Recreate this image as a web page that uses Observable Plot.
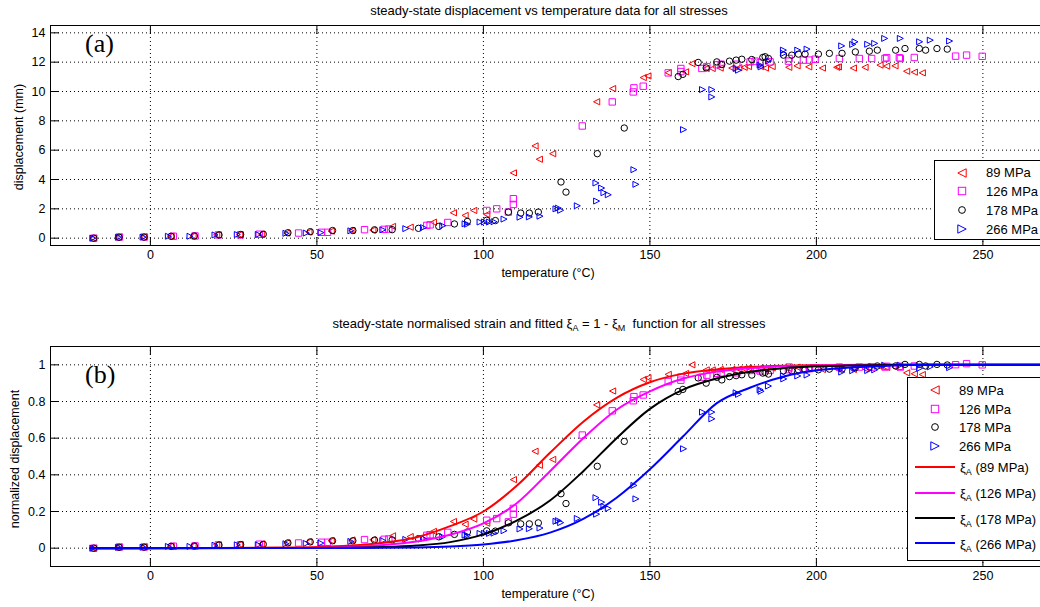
<!DOCTYPE html>
<html><head><meta charset="utf-8">
<script src="https://cdn.jsdelivr.net/npm/d3@7"></script>
<script src="https://cdn.jsdelivr.net/npm/@observablehq/plot@0.6"></script>
<style>
html,body{margin:0;padding:0;background:#fff;overflow:hidden;}
#fig{position:relative;width:1040px;height:607px;overflow:hidden;background:#fff;font-family:"Liberation Sans",Arial,sans-serif;color:#000;}
#fig svg.plotsvg{max-width:none !important;}
.abs{position:absolute;white-space:nowrap;line-height:14px;}
.ctr{transform:translateX(-50%);}
.rot{transform:translate(-50%,-50%) rotate(-90deg);}
.panel{font-family:"Liberation Serif","Times New Roman",serif;font-size:26px;line-height:26px;}
.legbox{position:absolute;border:1px solid #000;background:#fff;}
.legtxt{position:absolute;white-space:nowrap;font-size:13px;line-height:15px;}
sub{font-size:9px;vertical-align:-3px;line-height:0;}
</style>
</head>
<body>
<div id="fig"></div>
<script>
// ---------- data ----------
const stressLabels = ["89 MPa", "126 MPa", "178 MPa", "266 MPa"];
const xTicks = [0, 50, 100, 150, 200, 250];
const dispTicks = [0, 2, 4, 6, 8, 10, 12, 14];
const normTicks = [0, 0.2, 0.4, 0.6, 0.8, 1];

// [temperature °C, displacement mm]
const d89 = [[-17.2,0.00],[-9.5,0.07],[-2.0,0.08],[6.2,0.14],[12.8,0.15],[19.9,0.23],[26.8,0.25],[33.4,0.28],[41.0,0.35],[47.6,0.42],[54.3,0.48],[60.5,0.53],[66.8,0.55],[72.7,0.80],[78.0,0.75],[85.0,1.09],[91.0,1.73],[94.5,1.55],[97.1,1.89],[101.0,1.62],[109.0,4.45],[115.5,6.29],[116.8,5.38],[120.8,5.76],[134.0,9.30],[138.8,10.20],[148.0,10.95],[149.4,11.06],[155.5,11.28],[160.7,11.34],[162.6,11.90],[166.9,11.57],[168.7,11.57],[171.1,11.60],[174.6,11.60],[176.7,11.62],[178.3,11.65],[179.6,11.70],[183.2,11.70],[184.7,11.60],[186.7,11.70],[191.7,11.65],[194.2,11.75],[197.7,11.68],[201.8,11.60],[206.1,11.65],[206.6,11.68],[211.1,11.60],[214.6,11.65],[219.1,11.80],[221.1,11.73],[223.6,11.75],[227.1,11.38],[229.4,11.32],[231.8,11.27]];
const d126 = [[-17.0,0.00],[-9.3,0.08],[-1.8,0.08],[6.9,0.13],[13.4,0.15],[20.4,0.22],[27.0,0.22],[32.7,0.27],[44.5,0.35],[51.4,0.40],[53.2,0.40],[64.3,0.58],[70.2,0.60],[71.6,0.62],[83.0,0.87],[84.0,0.91],[89.3,1.07],[101.0,1.89],[104.0,2.00],[107.5,1.78],[109.0,2.69],[109.0,2.30],[129.7,7.65],[138.7,9.29],[145.2,10.25],[145.0,9.97],[148.0,10.36],[155.5,11.27],[159.3,11.57],[159.3,11.36],[165.6,11.57],[167.1,11.70],[170.1,11.82],[171.4,11.86],[176.1,11.86],[180.1,12.02],[181.6,12.07],[183.1,11.98],[186.1,12.02],[191.6,12.07],[191.8,12.25],[196.1,12.14],[197.9,12.14],[199.6,12.20],[206.9,12.25],[212.9,12.25],[216.6,12.25],[220.6,12.25],[221.1,12.30],[224.9,12.30],[225.2,12.25],[229.4,12.32],[241.8,12.41],[245.1,12.48],[249.8,12.40]];
const d178 = [[-17.0,0.00],[-9.4,0.06],[-1.9,0.07],[6.2,0.13],[13.2,0.15],[20.6,0.22],[27.1,0.25],[33.9,0.27],[41.3,0.37],[48.0,0.44],[54.7,0.52],[60.8,0.52],[67.3,0.57],[72.6,0.58],[80.5,0.67],[86.6,0.80],[91.3,0.97],[95.2,1.14],[101.0,1.22],[103.6,1.20],[107.5,1.78],[111.2,1.71],[113.8,1.71],[116.5,1.78],[123.3,3.83],[124.8,3.14],[134.2,5.76],[142.3,7.51],[158.5,11.02],[159.9,11.17],[164.5,11.98],[166.9,11.61],[170.1,12.02],[171.6,11.84],[173.9,12.07],[175.9,12.14],[177.6,12.20],[180.6,12.18],[183.9,12.32],[184.6,12.37],[185.6,12.25],[190.1,12.48],[192.6,12.48],[194.6,12.55],[196.6,12.55],[200.6,12.55],[203.9,12.60],[207.7,12.60],[211.7,12.70],[215.9,12.75],[218.3,12.82],[223.8,12.82],[226.6,12.93],[230.9,12.93],[232.8,12.82],[236.2,12.93],[239.3,12.89]];
const d266 = [[-17.3,0.00],[-9.6,0.06],[-2.2,0.07],[5.4,0.13],[11.9,0.13],[19.4,0.22],[26.1,0.25],[32.4,0.25],[40.7,0.33],[46.8,0.35],[51.2,0.38],[60.2,0.50],[69.8,0.57],[76.7,0.65],[82.0,0.72],[87.8,0.85],[94.5,0.98],[95.2,0.95],[99.0,1.10],[100.3,1.10],[101.8,1.10],[103.2,1.12],[106.2,1.30],[111.0,1.43],[113.8,1.45],[117.0,1.50],[121.8,2.00],[122.5,2.05],[123.2,1.90],[128.2,2.21],[133.8,3.76],[134.0,2.53],[135.5,3.42],[136.2,3.10],[137.5,2.96],[145.2,4.67],[145.8,3.67],[160.1,7.40],[165.8,10.13],[168.6,10.13],[168.6,9.63],[175.9,11.57],[176.6,11.45],[183.1,11.80],[183.4,11.68],[185.6,12.07],[190.1,12.82],[190.2,12.60],[194.4,12.82],[197.2,12.89],[207.6,13.11],[210.9,13.21],[211.6,13.39],[215.4,13.22],[217.5,13.28],[220.5,13.62],[225.2,13.62],[231.0,13.39],[234.2,13.50],[240.0,13.44]];

// displacement that maps to normalized value 1 for each stress
const normRef = [11.9, 12.4, 12.9, 13.65];

// fitted xi_A curves [temperature, normalized value]
const fit89 = [[-18,0],[20,0.001],[40,0.003],[50,0.006],[60,0.014],[70,0.03],[80,0.06],[90,0.12],[100,0.2],[110,0.34],[120,0.52],[130,0.69],[140,0.82],[150,0.905],[160,0.952],[170,0.975],[180,0.988],[190,0.995],[200,0.998],[215,1],[270,1]];
const fit126 = [[-18,0],[40,0.001],[60,0.007],[70,0.017],[80,0.036],[90,0.073],[100,0.135],[110,0.245],[120,0.42],[130,0.6],[140,0.755],[150,0.855],[160,0.925],[170,0.963],[180,0.982],[190,0.992],[200,0.997],[220,1],[270,1]];
const fit178 = [[-18,0],[50,0.001],[70,0.006],[80,0.014],[90,0.033],[100,0.075],[110,0.15],[120,0.26],[130,0.42],[140,0.6],[150,0.76],[160,0.865],[170,0.925],[180,0.962],[190,0.982],[200,0.992],[210,0.997],[230,1],[270,1]];
const fit266 = [[-18,0],[60,0.001],[80,0.004],[90,0.009],[100,0.02],[110,0.043],[120,0.085],[130,0.16],[140,0.275],[150,0.43],[160,0.61],[170,0.79],[180,0.875],[190,0.935],[200,0.97],[210,0.985],[220,0.994],[235,1],[270,1]];

// ---------- styling ----------
const colors = ["#ff0000", "#ff00ff", "#000000", "#0000ff"];
const triLeft = {draw(ctx, size){ const h = Math.sqrt(size/Math.PI); ctx.moveTo(-h,0); ctx.lineTo(h,-h); ctx.lineTo(h,h); ctx.closePath(); }};
const triRight = {draw(ctx, size){ const h = Math.sqrt(size/Math.PI); ctx.moveTo(h,0); ctx.lineTo(-h,-h); ctx.lineTo(-h,h); ctx.closePath(); }};
const symbols = [triLeft, "square", "circle", triRight];
const radii = [3.1, 3.6, 3.2, 3.0];
const dataSets = [d89, d126, d178, d266];
const fits = [fit89, fit126, fit178, fit266];

const xDomain = [-30, 270];
const gridStyle = {stroke:"#000", strokeOpacity:1, strokeDasharray:"1,3", strokeWidth:1};
const plotStyle = {fontFamily:'"Liberation Sans", Arial, sans-serif', fontSize:"12.5px", color:"#000", background:"transparent", overflow:"visible", maxWidth:"none"};

function axes(yTicks, yFmt) {
  return [
    Plot.axisX(xTicks, {anchor:"bottom", tickSize:0, tickPadding:5, label:null}),
    Plot.axisX(xTicks, {anchor:"bottom", tickSize:8, dy:-8, tickFormat:() => "", label:null}),
    Plot.axisX(xTicks, {anchor:"top", tickSize:8, dy:8, tickFormat:() => "", label:null}),
    Plot.axisY(yTicks, {anchor:"left", tickSize:0, tickPadding:5, tickFormat:yFmt, label:null}),
    Plot.axisY(yTicks, {anchor:"left", tickSize:9, dx:9, tickFormat:() => "", label:null})
  ];
}

const topPlot = Plot.plot({
  width:1050, height:290,
  marginLeft:50, marginRight:1, marginTop:25, marginBottom:45,
  x:{domain:xDomain}, y:{domain:[-0.5, 14.5]},
  style:plotStyle,
  marks:[
    Plot.gridX(xTicks, gridStyle),
    Plot.gridY(dispTicks, gridStyle),
    ...dataSets.map((ds, i) => Plot.dot(ds, {x:d => d[0], y:d => d[1], symbol:symbols[i], r:radii[i], stroke:colors[i], fill:"none", strokeWidth:1})),
    Plot.frame({stroke:"#000"}),
    ...axes(dispTicks, d => String(d))
  ]
});

const bottomPlot = Plot.plot({
  width:1050, height:307,
  marginLeft:50, marginRight:1, marginTop:46, marginBottom:41,
  x:{domain:xDomain}, y:{domain:[-0.1, 1.1]},
  style:plotStyle,
  marks:[
    Plot.gridX(xTicks, gridStyle),
    Plot.gridY(normTicks, gridStyle),
    ...dataSets.map((ds, i) => Plot.dot(ds, {x:d => d[0], y:d => d[1] / normRef[i], symbol:symbols[i], r:radii[i], stroke:colors[i], fill:"none", strokeWidth:1})),
    ...fits.map((f, i) => Plot.line(f, {x:d => d[0], y:d => d[1], stroke:colors[i], strokeWidth:2, curve:"monotone-x"})),
    Plot.frame({stroke:"#000"}),
    ...axes(normTicks, d => String(d))
  ]
});

const fig = document.getElementById("fig");
for (const [svg, top, h] of [[topPlot, 0, 290], [bottomPlot, 300, 307]]) {
  svg.classList.add("plotsvg");
  svg.style.position = "absolute";
  svg.style.left = "0px";
  svg.style.top = top + "px";
  svg.style.maxWidth = "none";
  svg.style.width = "1050px";
  svg.style.height = h + "px";
  fig.appendChild(svg);
}

function addDiv(html, cls, left, top, extra) {
  const d = document.createElement("div");
  d.className = cls;
  d.innerHTML = html;
  d.style.left = left + "px"; d.style.top = top + "px";
  if (extra) Object.assign(d.style, extra);
  fig.appendChild(d);
  return d;
}

// titles & labels
addDiv("steady-state displacement vs temperature data for all stresses", "abs ctr", 549, 4, {fontSize:"13px"});
addDiv("temperature (°C)", "abs ctr", 548, 266, {fontSize:"12.5px"});
addDiv("displacement (mm)", "abs rot", 18.5, 137, {fontSize:"12.5px"});
addDiv("(a)", "abs panel", 85, 30.5);

addDiv("steady-state normalised strain and fitted ξ<sub>A</sub> = 1 - ξ<sub>M</sub>&nbsp; function for all stresses", "abs ctr", 549, 317, {fontSize:"13px"});
addDiv("temperature (°C)", "abs ctr", 548, 587, {fontSize:"12.5px"});
addDiv("normalized displacement", "abs rot", 15, 459, {fontSize:"12.5px"});
addDiv("(b)", "abs panel", 85, 362);

// legends
function markerSVG(i, h) {
  let shape;
  if (i === 0) shape = `<path d="M${-h},0L${h},${-h}L${h},${h}Z"/>`;
  else if (i === 1) shape = `<rect x="${-h}" y="${-h}" width="${2*h}" height="${2*h}"/>`;
  else if (i === 2) shape = `<circle r="${h*0.8}"/>`;
  else shape = `<path d="M${h},0L${-h},${-h}L${-h},${h}Z"/>`;
  return `<svg width="16" height="16" viewBox="-8 -8 16 16" style="position:absolute;left:0;top:0;overflow:visible"><g fill="none" stroke="${colors[i]}" stroke-width="1">${shape}</g></svg>`;
}
function addMarker(i, cx, cy, h) {
  const d = document.createElement("div");
  d.style.position = "absolute"; d.style.left = (cx - 8) + "px"; d.style.top = (cy - 8) + "px";
  d.style.width = "16px"; d.style.height = "16px";
  d.innerHTML = markerSVG(i, h);
  fig.appendChild(d);
}
// top legend
addDiv("", "legbox", 934, 160, {width:"130px", height:"78px"});
const topRows = [172.7, 191, 210, 229];
stressLabels.forEach((lab, i) => {
  addMarker(i, 962, topRows[i], i === 1 ? 3.7 : 4.2);
  addDiv(lab, "legtxt", 986, topRows[i] - 7.5);
});
// bottom legend
addDiv("", "legbox", 907, 377, {width:"160px", height:"182px"});
const botRows = [390, 409.3, 427.3, 446];
stressLabels.forEach((lab, i) => {
  addMarker(i, 935, botRows[i], i === 1 ? 3.7 : 4.2);
  addDiv(lab, "legtxt", 959, botRows[i] - 7.5);
});
const lineRows = [466.7, 492.7, 518.3, 543.3];
stressLabels.forEach((lab, i) => {
  addDiv("", "abs", 915, lineRows[i] - 1, {width:"40px", height:"2px", background:colors[i]});
  addDiv(`ξ<sub>A</sub> (${lab})`, "legtxt", 960, lineRows[i] - 6.5);
});
</script>
</body></html>
